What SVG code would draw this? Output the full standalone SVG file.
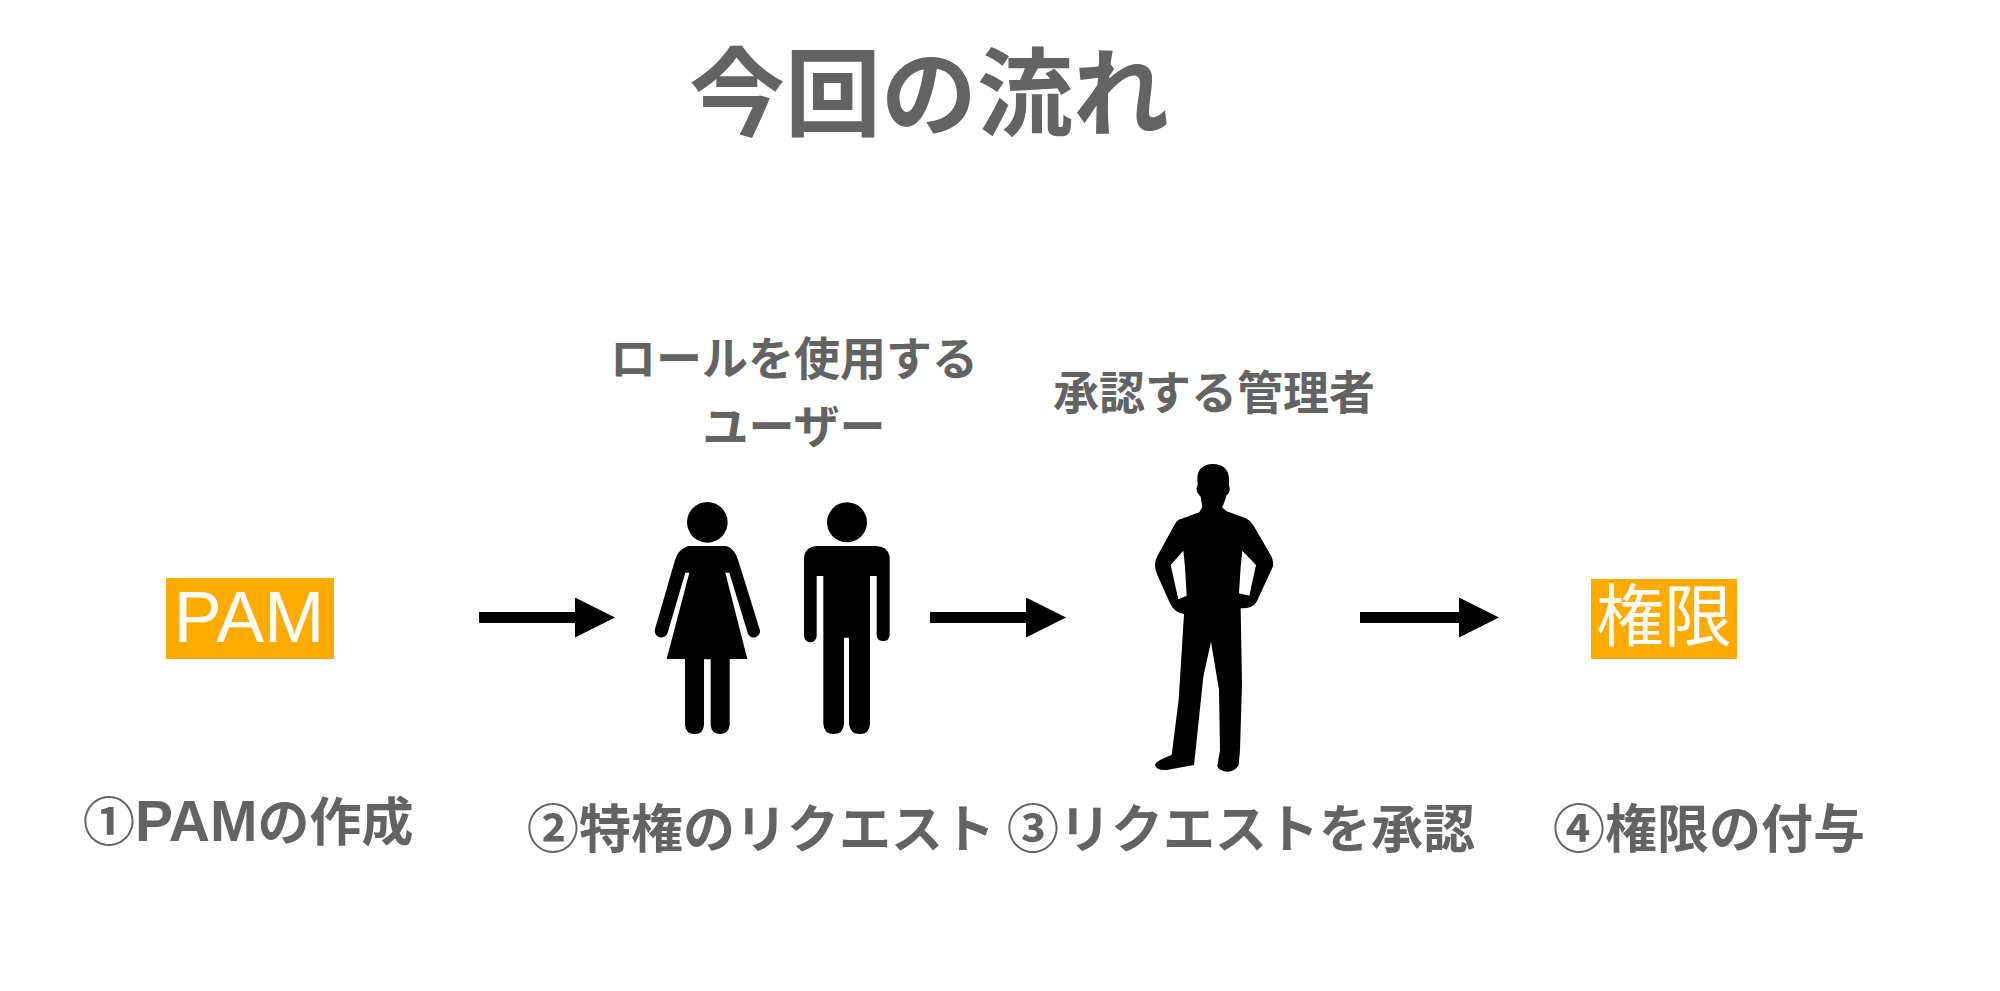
<svg xmlns="http://www.w3.org/2000/svg" width="2000" height="991" viewBox="0 0 2000 991">
<style>
.t{font-family:"Noto Sans CJK JP","Liberation Sans",sans-serif;font-weight:700;fill:#636363}
.l{font-size:46px;text-anchor:middle}
.s{font-size:52px}
.lat{font-family:"Liberation Sans",sans-serif;font-size:57px}
.w{fill:#fff;font-family:"Liberation Sans","Noto Sans CJK JP",sans-serif}
.box{fill:#ffab00}
.sh{fill:#000}
</style>
<defs><marker id="a" markerUnits="userSpaceOnUse" markerWidth="40" markerHeight="40" refX="1" refY="20" orient="auto"><path d="M0 0L40 20L0 40Z" fill="#000"/></marker></defs>
<rect width="2000" height="991" fill="#fff"/>
<g id="title"><text class="t" x="929" y="128" font-size="96" text-anchor="middle">今回の流れ</text></g>
<g id="connectors" stroke="#000" stroke-width="11" fill="none">
<line x1="479" y1="617.5" x2="576" y2="617.5" marker-end="url(#a)"/>
<line x1="930" y1="617.5" x2="1027" y2="617.5" marker-end="url(#a)"/>
<line x1="1360" y1="617.5" x2="1460" y2="617.5" marker-end="url(#a)"/>
</g>
<g id="pam"><rect class="box" x="166" y="578" width="168" height="81"/><text class="w" x="249" y="642" font-size="72" text-anchor="middle">PAM</text>
<text class="t s" x="83" y="841">①<tspan class="lat">PAM</tspan>の作成</text></g>
<g id="users">
<text class="t l" x="794" y="375">ロールを使用する</text>
<text class="t l" x="794" y="443">ユーザー</text>
<g id="woman" transform="translate(620 450) scale(.33333)"><circle class="sh" cx="262" cy="217" r="61"/>
<path class="sh" d="M205 288H318Q345 295 356 335L418 535A18 18 0 0 1 384 552L328 368H316L382 627H329V825Q326 852 300 852Q274 852 272 825V628H252V825Q250 852 224 852Q197 852 195 825V627H140L208 368H196L143 548A18 18 0 0 1 105 537L165 330Q175 297 205 288Z"/></g>
<g id="man" transform="translate(620 450) scale(.33333)"><circle class="sh" cx="681" cy="217" r="60"/>
<path class="sh" d="M590 288H770Q808 292 809 325V558A20 20 0 0 1 770 558V378H750V822Q748 852 720 852Q690 852 687 822V563H672V822Q670 852 641 852Q612 852 610 822V378H590V558A19 19 0 0 1 552 558V325Q553 292 590 288Z"/></g>
<text class="t s" x="527" y="848">②特権のリクエスト</text>
</g>
<g id="admin">
<text class="t l" x="1214" y="409">承認する管理者</text>
<path class="sh" fill-rule="evenodd" transform="translate(1120 450) scale(.33333)" d="M278 42C310 42 328 60 327 90L327 108C332 118 328 130 320 135C316 150 312 160 306 172L320 184L378 205Q392 212 400 226L452 315Q466 340 455 358L410 455Q398 476 362 475L366 700L360 900L356 945Q345 965 322 965Q295 962 292 948L300 900L297 720L273 575L250 680L228 890L222 945L140 960Q108 962 105 945Q108 932 155 915L176 750L192 492Q165 490 150 460L112 375Q98 345 112 318L165 222Q172 208 185 206L238 187L247 170L242 140C230 130 226 115 233 105L232 85C232 58 250 42 278 42ZM190 302L152 345L175 448L200 437L195 350ZM367 302L362 350L357 430L388 437L408 345Z"/>
<text class="t s" x="1007" y="848">③リクエストを承認</text>
</g>
<g id="auth"><rect class="box" x="1591" y="579" width="146" height="80"/><text class="w" x="1664" y="641" font-size="68" text-anchor="middle" style="font-family:'Noto Sans CJK JP',sans-serif">権限</text>
<text class="t s" x="1553" y="848">④権限の付与</text></g>
</svg>
